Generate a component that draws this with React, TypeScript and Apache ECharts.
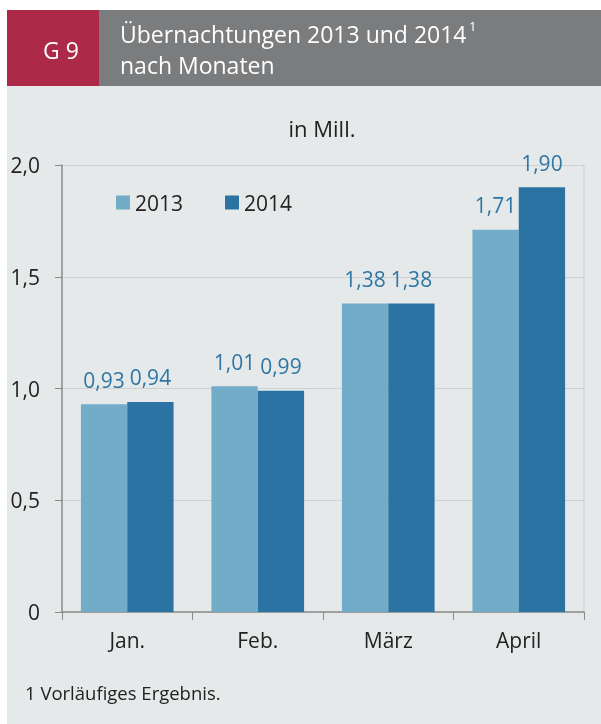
import React, { useEffect, useRef } from "react";
import * as echarts from "echarts";

const categories = ["Jan.", "Feb.", "März", "April"];
const values2013 = [0.93, 1.01, 1.38, 1.71];
const values2014 = [0.94, 0.99, 1.38, 1.9];
const seriesNames = ["2013", "2014"];
const yTicks = [0, 0.5, 1.0, 1.5, 2.0];

const C13 = "#72acc8";
const C14 = "#2b73a2";
const FONT = "'Open Sans', 'Noto Sans', sans-serif";

const fmt = (v: number, d: number) => (v === 0 ? "0" : v.toFixed(d).replace(".", ","));

export default function App() {
  const ref = useRef<HTMLDivElement>(null);
  useEffect(() => {
    const chart = echarts.init(ref.current!, undefined, { renderer: "svg" });
    const label = {
      show: true,
      position: "top" as const,
      distance: 14,
      color: "#2e76a6",
      fontSize: 21,
      fontFamily: FONT,
      formatter: (p: any) => fmt(p.value, 2),
    };
    chart.setOption({
      animation: false,
      backgroundColor: "transparent",
      graphic: [
        { type: "rect", shape: { x: 7, y: 10, width: 594, height: 714 }, style: { fill: "#e6e9ea" }, z: -10 },
        { type: "rect", shape: { x: 7, y: 10, width: 92, height: 76 }, style: { fill: "#ac2a48" }, z: -5 },
        { type: "rect", shape: { x: 99, y: 10, width: 502, height: 76 }, style: { fill: "#7b7c7e" }, z: -5 },
        { type: "text", x: 61, y: 50, style: { text: "G 9", fill: "#ffffff", fontSize: 23, fontFamily: FONT, align: "center", verticalAlign: "middle" } },
        { type: "text", x: 120, y: 34, style: { text: "Übernachtungen 2013 und 2014", fill: "#ffffff", fontSize: 23, fontFamily: FONT, align: "left", verticalAlign: "middle" } },
        { type: "text", x: 469, y: 26, style: { text: "1", fill: "#ffffff", fontSize: 13, fontFamily: FONT, align: "left", verticalAlign: "middle" } },
        { type: "text", x: 120, y: 65, style: { text: "nach Monaten", fill: "#ffffff", fontSize: 23, fontFamily: FONT, align: "left", verticalAlign: "middle" } },
        { type: "text", x: 322, y: 128, style: { text: "in Mill.", fill: "#222222", fontSize: 22, fontFamily: FONT, align: "center", verticalAlign: "middle" } },
        { type: "text", x: 25, y: 692, style: { text: "1 Vorläufiges Ergebnis.", fill: "#222222", fontSize: 18.5, fontFamily: FONT, align: "left", verticalAlign: "middle" } },
        { type: "line", shape: { x1: 584, y1: 165, x2: 584, y2: 612 }, style: { stroke: "#c9cdcf", lineWidth: 1 } },
      ],
      legend: {
        left: 111,
        top: 187,
        itemWidth: 14,
        itemHeight: 14,
        itemGap: 42,
        icon: "rect",
        data: seriesNames,
        textStyle: { fontSize: 21, color: "#222222", fontFamily: FONT },
      },
      grid: { left: 62, right: 17, top: 165, bottom: 112, containLabel: false },
      xAxis: {
        type: "category",
        data: categories,
        axisLine: { lineStyle: { color: "#8a8a8a", width: 1.5 } },
        axisTick: { show: true, length: 8, lineStyle: { color: "#8a8a8a" } },
        axisLabel: { fontSize: 21, color: "#222222", fontFamily: FONT, margin: 17 },
      },
      yAxis: {
        type: "value",
        min: 0,
        max: 2,
        interval: 0.5,
        axisLine: { show: true, lineStyle: { color: "#8a8a8a", width: 1.5 } },
        axisTick: { show: true, length: 7, inside: false, lineStyle: { color: "#8a8a8a" } },
        splitLine: { lineStyle: { color: "#cdd1d3" } },
        axisLabel: {
          fontSize: 21,
          color: "#222222",
          fontFamily: FONT,
          margin: 22,
          formatter: (v: number) => (yTicks.includes(v) ? fmt(v, 1) : ""),
        },
      },
      series: [
        { name: seriesNames[0], type: "bar", data: values2013, itemStyle: { color: C13 }, barGap: "0%", barCategoryGap: "29%", label },
        { name: seriesNames[1], type: "bar", data: values2014, itemStyle: { color: C14 }, barGap: "0%", barCategoryGap: "29%", label },
      ],
    });
    return () => chart.dispose();
  }, []);
  return <div ref={ref} style={{ position: "fixed", left: 0, top: 0, width: 601, height: 724 }} />;
}
